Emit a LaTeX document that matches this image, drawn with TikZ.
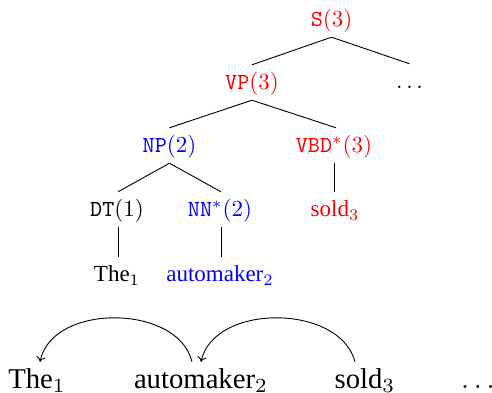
\RequirePackage{fix-cm}
\documentclass[tikz,border=0pt]{standalone}
\usepackage[no-math]{fontspec}
\usepackage{graphicx}
\setmainfont{Liberation Serif}
\usetikzlibrary{calc,arrows.meta}
\newcommand{\trtext}[1]{\scalebox{2.3}{\fontsize{10}{12}\selectfont #1}}
\newcommand{\bwtext}[1]{\scalebox{2.87}{\fontsize{10}{12}\selectfont #1}}
\begin{document}
\begin{tikzpicture}[x=1pt,y=1pt,
  tn/.style={anchor=base,inner sep=0pt,text height=25pt,text depth=10pt},
  bw/.style={anchor=base,inner sep=0pt,text height=26pt,text depth=0pt},
  br/.style={line width=0.9pt},
  arc/.style={line width=0.9pt,-{To[length=5pt,width=9pt]}}]
\useasboundingbox (0,0) rectangle (492,393);
% tree
\node[tn,red]  (S)   at (331.5,366) {\trtext{\texttt{S}$(3)$}};
\node[tn,red]  (VP)  at (252,303)   {\trtext{\texttt{VP}$(3)$}};
\node[tn]      (dt0) at (409.5,304) {\trtext{$\ldots$}};
\node[tn,blue] (NP)  at (169.5,240) {\trtext{\texttt{NP}$(2)$}};
\node[tn,red]  (VBD) at (334,240)   {\trtext{\texttt{VBD}$^*(3)$}};
\node[tn]      (DT)  at (117,176)   {\trtext{\texttt{DT}$(1)$}};
\node[tn,blue] (NN)  at (220,176)   {\trtext{\texttt{NN}$^*(2)$}};
\node[tn,red]  (sl)  at (335,176)   {\trtext{sold$_3$}};
\node[tn]      (th)  at (117,111)   {\trtext{The$_1$}};
\node[tn,blue] (am)  at (220,111)   {\trtext{automaker$_2$}};
\draw[br] (S.south) -- (VP.north);
\draw[br] (S.south) -- (dt0.north);
\draw[br] (VP.south) -- (NP.north);
\draw[br] (VP.south) -- ($(VBD.north)+(2,0)$);
\draw[br] (NP.south) -- ($(DT.north)+(1,0)$);
\draw[br] (NP.south) -- ($(NN.north)+(1,0)$);
\draw[br] (VBD.south) -- (VBD.south |- sl.north);
\draw[br] ($(DT.south)+(1,0)$) -- ($(th.north)+(1,0)$);
\draw[br] ($(NN.south)+(1,0)$) -- ($(am.north)+(1,0)$);
% sentence
\node[bw] (bThe) at (37,5)  {\bwtext{The$_1$}};
\node[bw] (bAut) at (201,5) {\bwtext{automaker$_2$}};
\node[bw] (bSol) at (365,5) {\bwtext{sold$_3$}};
\node[bw,anchor=base west] (bDots) at (461,5) {\bwtext{$\ldots$}};
\draw[arc] ($(bAut.north)+(-9,0)$) .. controls +(-14,58) and +(12,59) .. ($(bThe.north)+(3,0)$);
\draw[arc] ($(bSol.north)+(-10,0)$) .. controls +(-15,58) and +(13,59) .. (bAut.north);
\end{tikzpicture}
\end{document}
